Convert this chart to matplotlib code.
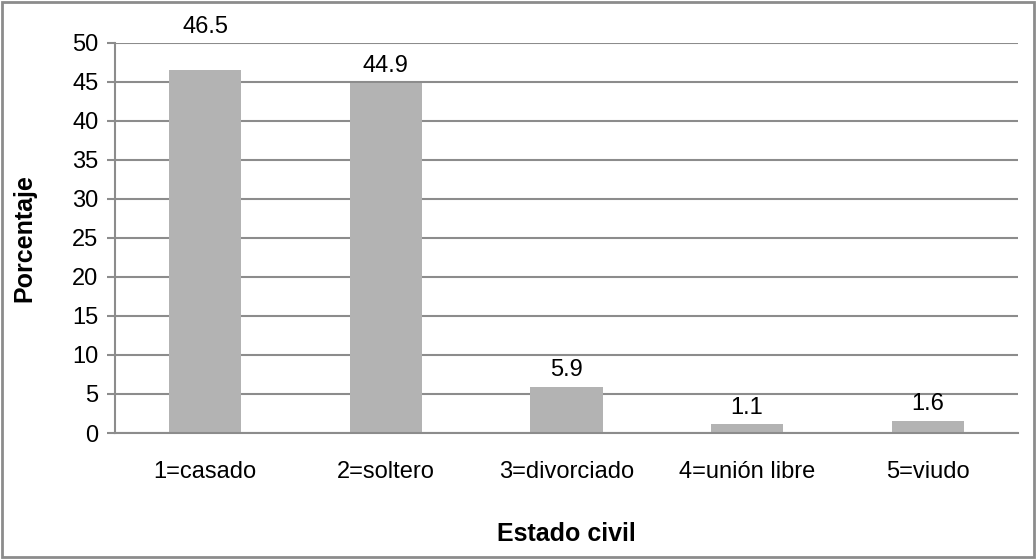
import matplotlib.pyplot as plt
from matplotlib.patches import Rectangle
import numpy as np

categories = ['1=casado', '2=soltero', '3=divorciado', '4=unión libre', '5=viudo']
values = [46.5, 44.9, 5.9, 1.1, 1.6]
yticks = [0, 5, 10, 15, 20, 25, 30, 35, 40, 45, 50]

# label offsets in points above the bar (first label was moved up in the original)
label_offsets = [23, 4, 4, 4, 4]

plt.rcParams['font.family'] = ['Liberation Sans', 'DejaVu Sans']

fig = plt.figure(figsize=(10.36, 5.59), dpi=100)
ax = fig.add_axes([0.111, 0.2254, 0.8716, 0.6977])

x = np.arange(len(categories))
ax.bar(x, values, width=0.4, color='#b3b3b3', zorder=2)

for xi, v, off in zip(x, values, label_offsets):
    ax.annotate(f'{v}', (xi, v), xytext=(0, off), textcoords='offset points',
                ha='center', va='bottom', fontsize=17, color='black')

ax.set_xlim(-0.5, len(categories) - 0.5)
ax.set_ylim(0, 50)
ax.set_yticks(yticks)
ax.set_xticks(x)
ax.set_xticklabels(categories, fontsize=17)
ax.tick_params(axis='y', labelsize=17, length=6, width=1.5, color='#8c8c8c', pad=6)
ax.tick_params(axis='x', length=0, pad=20)
ax.yaxis.grid(True, color='#8c8c8c', linewidth=1.5, zorder=0)
ax.set_axisbelow(True)

for s in ['top', 'right']:
    ax.spines[s].set_visible(False)
ax.spines['left'].set_color('#8c8c8c')
ax.spines['left'].set_linewidth(1.5)
ax.spines['bottom'].set_color('#8c8c8c')
ax.spines['bottom'].set_linewidth(1.5)

ax.set_ylabel('Porcentaje', fontsize=18, fontweight='bold', labelpad=26)
ax.set_xlabel('Estado civil', fontsize=18, fontweight='bold', labelpad=28)

# outer border of the chart
fig.patches.append(Rectangle((0.002, 0.003), 0.996, 0.994, transform=fig.transFigure,
                             fill=False, edgecolor='#8c8c8c', linewidth=2))

fig.savefig('out.png', dpi=100)
